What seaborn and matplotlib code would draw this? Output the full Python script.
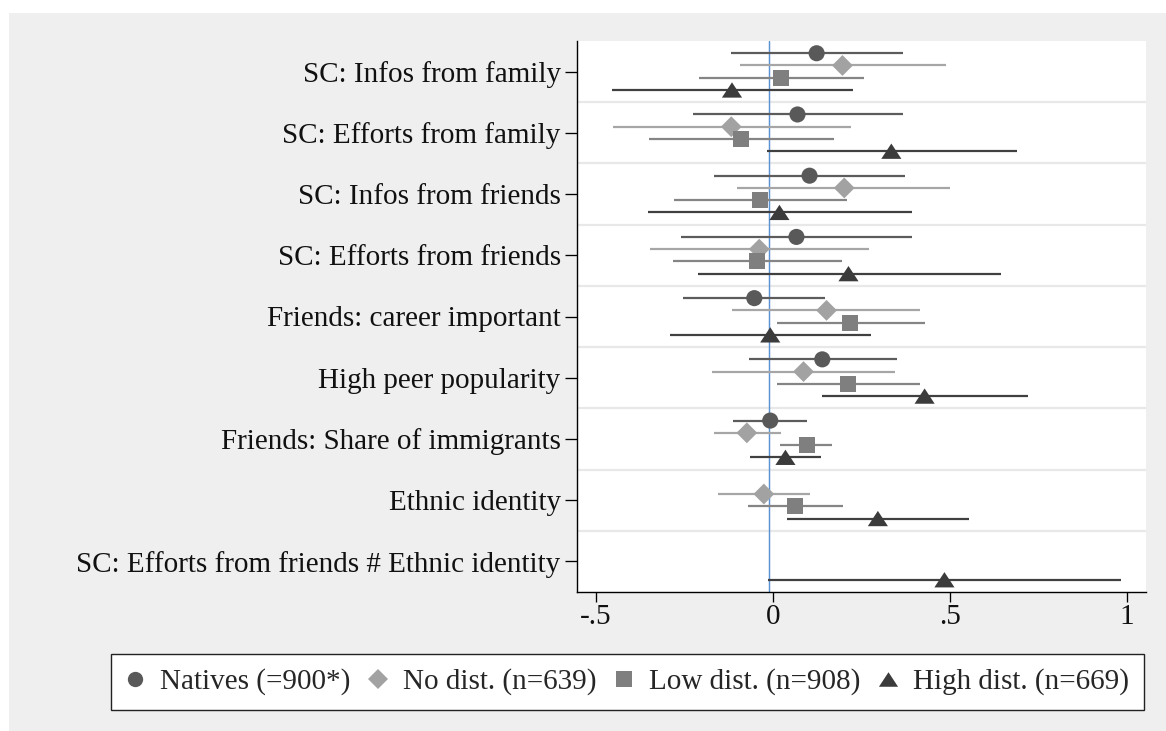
import numpy as np
import pandas as pd
import matplotlib
matplotlib.use("Agg")
import matplotlib.pyplot as plt
from matplotlib.lines import Line2D
from matplotlib.patches import Rectangle
import seaborn as sns

# ---------------- data ----------------
categories = [
    "SC: Infos from family",
    "SC: Efforts from family",
    "SC: Infos from friends",
    "SC: Efforts from friends",
    "Friends: career important",
    "High peer popularity",
    "Friends: Share of immigrants",
    "Ethnic identity",
    "SC: Efforts from friends # Ethnic identity",
]
groups = ["Natives (=900*)", "No dist. (n=639)", "Low dist. (n=908)", "High dist. (n=669)"]
nan = np.nan

natives_coef = [0.124, 0.070, 0.104, 0.067, -0.052, 0.140, -0.007, nan, nan]
natives_lo = [-0.119, -0.226, -0.166, -0.259, -0.252, -0.068, -0.111, nan, nan]
natives_hi = [0.368, 0.369, 0.374, 0.394, 0.149, 0.351, 0.098, nan, nan]

nodist_coef = [0.197, -0.117, 0.202, -0.038, 0.152, 0.087, -0.073, -0.025, nan]
nodist_lo = [-0.093, -0.452, -0.100, -0.346, -0.114, -0.171, -0.167, -0.154, nan]
nodist_hi = [0.488, 0.221, 0.501, 0.271, 0.417, 0.345, 0.023, 0.105, nan]

lowdist_coef = [0.024, -0.089, -0.035, -0.044, 0.219, 0.213, 0.096, 0.064, nan]
lowdist_lo = [-0.207, -0.348, -0.279, -0.282, 0.012, 0.012, 0.022, -0.069, nan]
lowdist_hi = [0.257, 0.172, 0.209, 0.196, 0.429, 0.416, 0.168, 0.199, nan]

highdist_coef = [-0.115, 0.335, 0.019, 0.214, -0.007, 0.429, 0.036, 0.297, 0.485]
highdist_lo = [-0.453, -0.016, -0.352, -0.212, -0.291, 0.139, -0.063, 0.041, -0.013]
highdist_hi = [0.226, 0.690, 0.393, 0.644, 0.278, 0.722, 0.136, 0.554, 0.983]

ref_line = -0.01
x_ticks = [-0.5, 0, 0.5, 1]
x_ticklabels = ["-.5", "0", ".5", "1"]

# ---------------- styling ----------------
coefs = [natives_coef, nodist_coef, lowdist_coef, highdist_coef]
los = [natives_lo, nodist_lo, lowdist_lo, highdist_lo]
his = [natives_hi, nodist_hi, lowdist_hi, highdist_hi]
offsets = [-0.3, -0.1, 0.1, 0.3]
colors = {groups[0]: "#595959", groups[1]: "#a2a2a2", groups[2]: "#7f7f7f", groups[3]: "#3b3b3b"}
line_colors = {groups[0]: "#5c5c5c", groups[1]: "#a6a6a6", groups[2]: "#858585", groups[3]: "#404040"}
tri = [(-1, -0.76), (1, -0.76), (0, 0.76), (-1, -0.76)]
markers = {groups[0]: "o", groups[1]: "D", groups[2]: "s", groups[3]: tri}
msizes = {groups[0]: 11.6, groups[1]: 10.6, groups[2]: 11.6, groups[3]: 14.5}

rows = []
for g, c, lo, hi, off in zip(groups, coefs, los, his, offsets):
    for i, cat in enumerate(categories):
        if not np.isnan(c[i]):
            rows.append({"category": cat, "group": g, "coef": c[i], "lo": lo[i],
                         "hi": hi[i], "y": i + off})
df = pd.DataFrame(rows)

sns.set_theme(style="white")
plt.rcParams["font.family"] = ["Liberation Serif", "DejaVu Serif"]
FS = 21

W, H = 1166, 731
fig = plt.figure(figsize=(W / 100, H / 100), dpi=100, facecolor="white")
fig.patches.append(Rectangle((9 / W, 0), 1 - 9 / W, 1 - 13 / H, transform=fig.transFigure,
                             facecolor="#efefef", edgecolor="none", zorder=-10))
ax = fig.add_axes([577 / W, 1 - 592 / H, (1145.5 - 577) / W, (592 - 41) / H])
ax.set_facecolor("white")

# separators between categories
for i in range(len(categories) - 1):
    ax.axhline(i + 0.5, color="#e8e8e8", lw=1.6, zorder=0.5)

ax.axvline(ref_line, color="#5b92d2", lw=1.05, zorder=1)

for g in groups:
    sub = df[df["group"] == g]
    ax.hlines(sub["y"], sub["lo"], sub["hi"], colors=line_colors[g], lw=1.6, zorder=2,
              capstyle="butt")

sns.scatterplot(data=df, x="coef", y="y", hue="group", style="group", size="group",
                hue_order=groups, style_order=groups, size_order=groups,
                palette=colors, markers=markers,
                sizes={g: msizes[g] ** 2 for g in groups},
                linewidth=0, edgecolor="none", legend=False, ax=ax, zorder=3)

ax.set_xlim(-0.5527, 1.0528)
ax.set_ylim(len(categories) - 0.5, -0.5)
ax.set_yticks(range(len(categories)))
ax.set_yticklabels(categories, fontsize=FS, color="#111111")
ax.set_xticks(x_ticks)
ax.set_xticklabels(x_ticklabels, fontsize=FS, color="#111111")
ax.set_xlabel("")
ax.set_ylabel("")
for s in ["top", "right"]:
    ax.spines[s].set_visible(False)
for s in ["left", "bottom"]:
    ax.spines[s].set_color("black")
    ax.spines[s].set_linewidth(1.0)
ax.tick_params(axis="y", direction="out", length=8.5, width=0.95, color="black", pad=3.2, left=True)
ax.tick_params(axis="x", direction="out", length=7, width=0.95, color="black", pad=1.5, bottom=True)
ax.grid(False)

handles = [Line2D([], [], linestyle="none", marker=markers[g], markersize=msizes[g] * 0.95,
                  markerfacecolor=colors[g], markeredgewidth=0, color=colors[g]) for g in groups]
leg = fig.legend(handles, groups, loc="center", bbox_to_anchor=(627.1 / W, 1 - 682 / H),
                 ncol=4, fontsize=FS, frameon=True, fancybox=False, framealpha=1,
                 edgecolor="#222222", facecolor="white", handlelength=0.7,
                 handletextpad=0.5, columnspacing=0.6, borderpad=0.5)
leg.get_frame().set_linewidth(1.0)

fig.savefig("out.png", dpi=100, facecolor=fig.get_facecolor())
